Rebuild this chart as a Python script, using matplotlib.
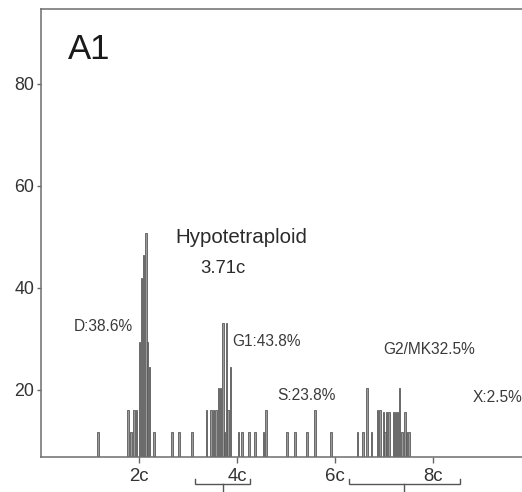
import matplotlib
matplotlib.use("Agg")
import matplotlib.pyplot as plt

plt.rcParams['font.family'] = ['Liberation Sans', 'DejaVu Sans']

# DNA content (c) of each histogram bin and its height
dna_content = [1.16, 1.78, 1.84, 1.90, 1.95, 2.01, 2.05, 2.09, 2.14, 2.17, 2.21, 2.31,
               2.67, 2.82, 3.08,
               3.38, 3.47, 3.52, 3.57, 3.62, 3.67, 3.72, 3.75, 3.79, 3.82, 3.87,
               4.03, 4.10, 4.25, 4.37, 4.54, 4.59,
               5.02, 5.19, 5.43, 5.60, 5.92,
               6.46, 6.58, 6.66, 6.75, 6.87, 6.92, 6.99, 7.03, 7.06, 7.11, 7.20,
               7.24, 7.28, 7.32, 7.37, 7.43, 7.47, 7.52]
counts = [11.8, 16.1, 11.8, 16.1, 16.1, 29.5, 41.9, 46.5, 50.7, 29.5, 24.6, 11.8,
          11.8, 11.8, 11.8,
          16.1, 16.1, 16.1, 16.1, 20.3, 20.3, 33.1, 11.8, 33.1, 16.1, 24.6,
          11.8, 11.8, 11.8, 11.8, 11.8, 16.1,
          11.8, 11.8, 11.8, 16.1, 11.8,
          11.8, 11.8, 20.3, 11.8, 16.1, 16.1, 15.6, 11.8, 15.6, 15.6, 15.6,
          15.6, 15.6, 20.3, 11.8, 15.6, 11.8, 11.8]

x_ticks = [2, 4, 6, 8]
x_ticklabels = ['2c', '4c', '6c', '8c']
y_ticks = [20, 40, 60, 80]

ploidy_value = 3.71
stemline_labels = [
    ('D:38.6%', 0.67, 32.4),
    ('G1:43.8%', 3.90, 29.6),
    ('S:23.8%', 4.82, 19.0),
    ('G2/MK32.5%', 6.98, 28.0),
    ('X:2.5%', 8.82, 18.6),
]

W, H = 522, 492
fig = plt.figure(figsize=(W / 100, H / 100), dpi=100)
ax = fig.add_axes([41.1 / W, 35 / H, 489.5 / W, 448 / H])

ax.bar(dna_content, counts, width=0.03, bottom=0, color='#9a9a9a',
       edgecolor='#5a5a5a', linewidth=0.6)

ax.set_xlim(0, 10)
ax.set_ylim(6.86, 94.7)

ax.set_xticks(x_ticks)
ax.set_xticklabels(x_ticklabels)
ax.set_yticks(y_ticks)
ax.tick_params(axis='x', direction='out', length=4.3, width=1.0, color='#666666',
               labelsize=13.4, labelcolor='#333333', pad=3.5)
ax.tick_params(axis='y', direction='out', length=3, width=1.0, color='#666666',
               labelsize=12.8, labelcolor='#333333', pad=2)

for side in ['left', 'bottom', 'top', 'right']:
    ax.spines[side].set_color('#6e6e6e')
    ax.spines[side].set_linewidth(1.1)

txt = '#2b2b2b'
ax.text(0.55, 86.7, 'A1', fontsize=25, color='#1a1a1a', ha='left', va='center')
ax.text(4.10, 49.8, 'Hypotetraploid', fontsize=14.8, color=txt, ha='center', va='center')
ax.text(ploidy_value, 43.9, f'{ploidy_value:.2f}c', fontsize=13.3, color=txt,
        ha='center', va='center')
for label, lx, ly in stemline_labels:
    ax.text(lx, ly, label, fontsize=11.2, color='#3a3a3a', ha='left', va='center')

# brackets marking +/-15% windows around 2x and 4x the stemline
for center in (ploidy_value, 2 * ploidy_value):
    lo, hi = center * 0.848, center * 1.152
    ax.plot([lo, lo, hi, hi], [2.55, 1.5, 1.5, 2.55], color='#555555', lw=1.0,
            clip_on=False, solid_joinstyle='miter')
    ax.plot([center, center], [1.5, -1.0], color='#555555', lw=1.0, clip_on=False)

fig.savefig('out.png', dpi=100)
